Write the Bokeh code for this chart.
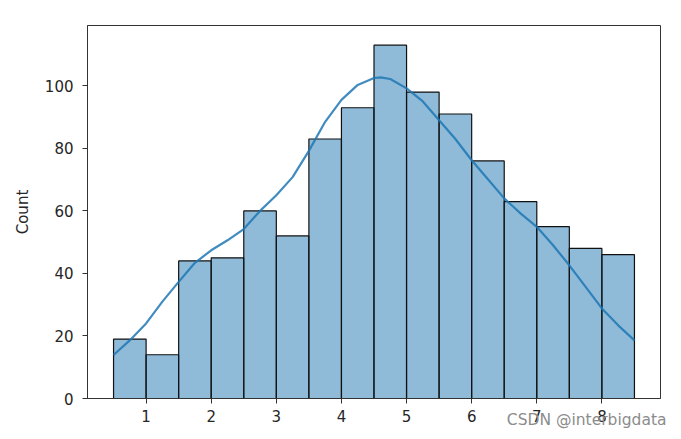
from bokeh.plotting import figure
from bokeh.models import Range1d, FixedTicker, Title
from bokeh.embed import file_html
from bokeh.resources import INLINE

bin_edges = [0.5, 1.0, 1.5, 2.0, 2.5, 3.0, 3.5, 4.0, 4.5, 5.0, 5.5, 6.0, 6.5, 7.0, 7.5, 8.0, 8.5]
counts = [19, 14, 44, 45, 60, 52, 83, 93, 113, 98, 91, 76, 63, 55, 48, 46]

kde_x = [0.5, 0.77, 1.0, 1.25, 1.5, 1.75, 2.0, 2.25, 2.5, 2.75, 3.0, 3.25, 3.5, 3.75,
         4.0, 4.25, 4.5, 4.6, 4.75, 5.0, 5.25, 5.5, 5.75, 6.0, 6.25, 6.5, 6.75, 7.0,
         7.25, 7.5, 7.75, 8.0, 8.25, 8.5]
kde_y = [13.9, 19.0, 24.0, 31.0, 37.3, 43.4, 47.4, 50.6, 54.2, 60.0, 65.0, 70.8, 79.2, 88.5,
         95.5, 100.3, 102.5, 102.7, 102.2, 99.2, 95.0, 89.0, 83.0, 76.2, 70.1, 64.0, 59.2, 54.9,
         49.0, 42.6, 35.7, 28.8, 23.4, 18.6]

x_ticks = [1, 2, 3, 4, 5, 6, 7, 8]
y_ticks = [0, 20, 40, 60, 80, 100]

W, H = 673, 431
p = figure(width=W, height=H, output_backend="svg", toolbar_location=None,
           x_range=Range1d(0.1, 8.9), y_range=Range1d(0, 119.3),
           min_border_left=87, min_border_right=13, min_border_top=25, min_border_bottom=33)
p.background_fill_color = "white"
p.border_fill_color = "white"
p.outline_line_color = "#333333"
p.outline_line_width = 1
p.xgrid.visible = False
p.ygrid.visible = False

p.quad(left=bin_edges[:-1], right=bin_edges[1:], top=counts, bottom=0,
       fill_color="#1f77b4", fill_alpha=0.5, line_color="#111111", line_width=1.2)
p.line(kde_x, kde_y, line_color="#1f77b4", line_width=2.2, line_alpha=0.85)

for ax in (p.xaxis[0], p.yaxis[0]):
    ax.major_label_text_font = "DejaVu Sans"
    ax.major_label_text_font_size = "15px"
    ax.major_label_text_color = "#262626"
    ax.axis_line_color = "#333333"
    ax.major_tick_line_color = "#333333"
    ax.major_tick_in = 0
    ax.major_tick_out = 5
    ax.minor_tick_line_color = None
p.xaxis.ticker = FixedTicker(ticks=x_ticks)
p.yaxis.ticker = FixedTicker(ticks=y_ticks)
p.xaxis.major_label_standoff = 6
p.yaxis.major_label_standoff = 9
p.yaxis.axis_label = "Count"
p.yaxis.axis_label_text_font = "DejaVu Sans"
p.yaxis.axis_label_text_font_size = "15px"
p.yaxis.axis_label_text_font_style = "normal"
p.yaxis.axis_label_text_color = "#262626"
p.yaxis.axis_label_standoff = 10

wm = Title(text="CSDN @interbigdata", align="right", vertical_align="top",
           text_font="DejaVu Sans", text_font_size="15.5px", text_font_style="normal",
           text_color="#8c8c8c", standoff=-28, offset=-6)
p.add_layout(wm, "below")

open("out.html", "w").write(file_html(p, INLINE))
